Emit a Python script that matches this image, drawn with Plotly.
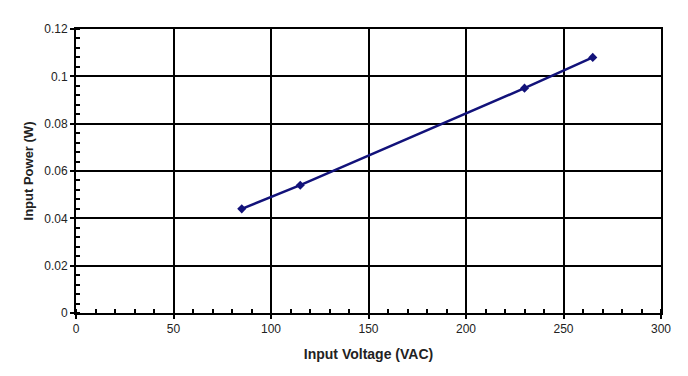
import plotly.graph_objects as go

voltage = [85, 115, 230, 265]
power = [0.044, 0.054, 0.095, 0.108]

fig = go.Figure()
fig.add_trace(go.Scatter(
    x=voltage, y=power, mode="lines+markers",
    line=dict(color="#12127a", width=2.5),
    marker=dict(symbol="diamond", size=7, color="#12127a"),
    showlegend=False,
))

font = "Liberation Sans, Arial, sans-serif"
fig.update_layout(
    width=680, height=368,
    margin=dict(l=68, r=27, t=21, b=63),
    plot_bgcolor="white", paper_bgcolor="white",
    font=dict(family=font, size=12, color="#222"),
)
fig.update_xaxes(
    range=[0, 300], dtick=50, tick0=0,
    showgrid=True, gridcolor="black", gridwidth=2,
    showline=True, linecolor="black", linewidth=2, mirror=True,
    ticks="outside", ticklen=4, tickwidth=2, tickcolor="black",
    minor=dict(ticks="inside", dtick=10, ticklen=4, tickwidth=2, tickcolor="black", showgrid=False),
    zeroline=False,
    title=dict(text="<b>Input Voltage (VAC)</b>", font=dict(size=14, color="#222"), standoff=14),
)
fig.update_yaxes(
    range=[0, 0.12], dtick=0.02, tick0=0,
    showgrid=True, gridcolor="black", gridwidth=2,
    showline=True, linecolor="black", linewidth=2, mirror=True,
    ticks="outside", ticklen=4, tickwidth=2, tickcolor="black",
    minor=dict(ticks="inside", dtick=0.004, ticklen=4, tickwidth=2, tickcolor="black", showgrid=False),
    zeroline=False,
    title=dict(text="<b>Input Power (W)</b>", font=dict(size=13, color="#222"), standoff=8),
)

fig.write_html("out.html")
